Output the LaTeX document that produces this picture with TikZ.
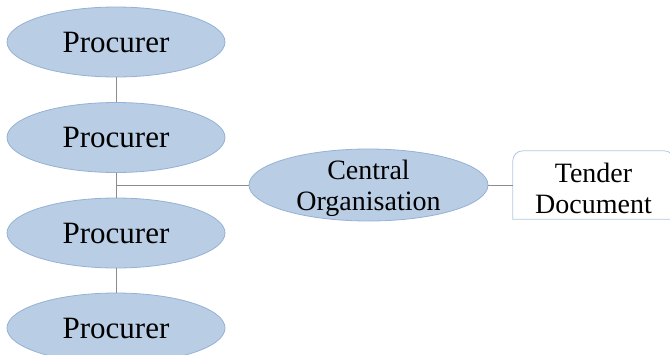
\documentclass[tikz,border=0pt]{standalone}
\usepackage{fontspec}
\setmainfont{Liberation Serif}
\usetikzlibrary{shapes.geometric,calc}
\definecolor{ellfill}{HTML}{B9CDE5}
\definecolor{elldraw}{HTML}{95B1D5}
\definecolor{conn}{HTML}{8C8C8C}
\definecolor{tbdraw}{HTML}{B4C8E0}
\tikzset{
  ell/.style={ellipse, fill=ellfill, draw=elldraw, line width=0.8pt, inner sep=0pt},
  proc/.style={ell, minimum width=218pt, minimum height=70pt},
  central/.style={ell, minimum width=239pt, minimum height=72pt},
  ptext/.style={font=\fontsize{31}{33}\selectfont},
  ctext/.style={font=\fontsize{28}{31}\selectfont, align=center},
  conline/.style={draw=conn, line width=0.8pt},
  tbline/.style={draw=tbdraw, line width=0.8pt, fill=white}
}
\begin{document}
\begin{tikzpicture}[x=1pt,y=-1pt]
\useasboundingbox (0,0) rectangle (670,354);
\node[proc, label={[ptext]center:Procurer}] (p1) at (116,42) {};
\node[proc, label={[ptext]center:Procurer}] (p2) at (116,137.5) {};
\node[proc, label={[ptext]center:Procurer}] (p3) at (116,233) {};
\node[proc, label={[ptext]center:Procurer}] (p4) at (116,328) {};
\node[central] (c) at (368.5,185) {};
\node[ctext] (ct) at ($(c.center)+(0,3)$) {Central\\Organisation};
\node[minimum width=161pt, minimum height=68pt, inner sep=0pt] (t) at (593.5,185) {};
\draw[tbline] (t.south west) -- ($(t.north west)+(0,10)$) arc[start angle=180,end angle=90,radius=10pt]
  -- ($(t.north east)+(-10,0)$) arc[start angle=90,end angle=0,radius=10pt] -- (t.south east) -- cycle;
\node[ctext] (tt) at ($(t.center)+(0,3)$) {Tender\\Document};
\coordinate (j) at (116,185);
\draw[conline] (p1.south) -- (p2.north);
\draw[conline] (p2.south) -- (p3.north);
\draw[conline] (p3.south) -- (p4.north);
\draw[conline] (j) -- (c.west);
\draw[conline] (c.east) -- (t.west);
\end{tikzpicture}
\end{document}
